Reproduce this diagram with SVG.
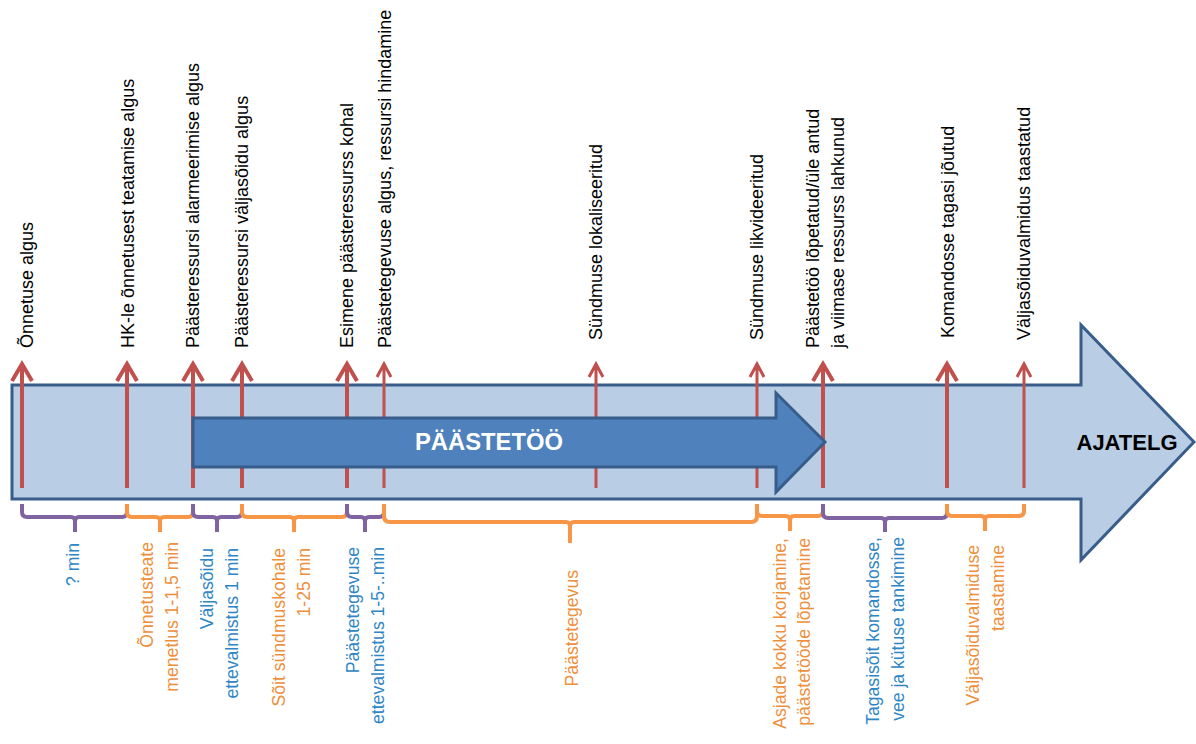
<svg xmlns="http://www.w3.org/2000/svg" width="1196" height="744" viewBox="0 0 1196 744">
<style>
.lbl{font-family:"Liberation Sans",Arial,sans-serif;font-size:18px;fill:#000}
.bl{font-family:"Liberation Sans",Arial,sans-serif;font-size:17.6px}
.or{fill:#ee8f3c}
.bu{fill:#2f86c4}
.big{fill:#b9cde5;stroke:#385d8a;stroke-width:3}
.inner{fill:#4f81bd;stroke:#385d8a;stroke-width:3}
.ra{stroke:#c0504d;fill:none;stroke-width:4;stroke-linejoin:miter}
.rt{stroke:#c0504d;fill:none;stroke-width:3}
.bp{stroke:#8064a2;fill:none;stroke-width:4}
.bo{stroke:#f79646;fill:none;stroke-width:4}
.title{font-family:"Liberation Sans",Arial,sans-serif;font-weight:bold;font-size:22px}
</style>
<rect width="1196" height="744" fill="#fff"/>
<g id="timeline">
<path class="big" d="M12,385 H1081 V325 L1194,442 L1081,560 V499 H12 Z"/>
<text class="title" x="1127" y="450" text-anchor="middle" fill="#000" textLength="101" lengthAdjust="spacingAndGlyphs">AJATELG</text>
</g>
<g id="connectors">
<path class="ra" d="M22,488 V364 M12,381 L22,364 L32,381"/>
<path class="ra" d="M127,488 V364 M117,381 L127,364 L137,381"/>
<path class="ra" d="M193,488 V364 M183,381 L193,364 L203,381"/>
<path class="ra" d="M242,488 V364 M232,381 L242,364 L252,381"/>
<path class="ra" d="M347,488 V364 M337,381 L347,364 L357,381"/>
<path class="rt" d="M384,488 V364 M377,377 L384,364 L391,377"/>
<path class="rt" d="M596,488 V364 M589,377 L596,364 L603,377"/>
<path class="rt" d="M757,488 V364 M750,377 L757,364 L764,377"/>
<path class="ra" d="M823,488 V364 M813,381 L823,364 L833,381"/>
<path class="ra" d="M947,488 V364 M937,381 L947,364 L957,381"/>
<path class="rt" d="M1024,488 V364 M1017,377 L1024,364 L1031,377"/>
</g>
<g id="paastetoo">
<path class="inner" d="M193,418 H776 V393 L825,442 L776,492 V467 H193 Z"/>
<text class="title" x="489" y="450" text-anchor="middle" fill="#fff" textLength="148" lengthAdjust="spacingAndGlyphs" style="font-size:23px">PÄÄSTETÖÖ</text>
</g>
<g id="brackets">
<path class="bp" d="M22,504 V512 Q22,517 27,517 H71 Q75,517 75,521 V532 M75,521 Q75,517 79,517 H122 Q127,517 127,512 V504"/>
<path class="bo" d="M127,504 V512 Q127,517 132,517 H156 Q160,517 160,521 V532 M160,521 Q160,517 164,517 H188 Q193,517 193,512 V504"/>
<path class="bp" d="M193,504 V512 Q193,517 198,517 H213 Q217,517 217,521 V532 M217,521 Q217,517 221,517 H237 Q242,517 242,512 V504"/>
<path class="bo" d="M242,504 V512 Q242,517 247,517 H290 Q294,517 294,521 V532 M294,521 Q294,517 298,517 H342 Q347,517 347,512 V504"/>
<path class="bp" d="M347,504 V512 Q347,517 352,517 H361 Q365,517 365,521 V532 M365,521 Q365,517 369,517 H379 Q384,517 384,512 V504"/>
<path class="bo" d="M384,504 V516 Q384,522 390,522 H566 Q570,522 570,527 V543 M570,527 Q570,522 574,522 H751 Q757,522 757,516 V504"/>
<path class="bo" d="M757,504 V511 Q757,516 762,516 H786 Q790,516 790,520 V531 M790,520 Q790,516 794,516 H818 Q823,516 823,511 V504"/>
<path class="bp" d="M823,504 V513 Q823,518 828,518 H881 Q885,518 885,522 V532 M885,522 Q885,518 889,518 H942 Q947,518 947,513 V504"/>
<path class="bo" d="M947,504 V511 Q947,516 952,516 H981 Q985,516 985,520 V531 M985,520 Q985,516 989,516 H1019 Q1024,516 1024,511 V504"/>
</g>
<g id="top-labels">
<text class="lbl" transform="translate(33,348) rotate(-90)">Õnnetuse algus</text>
<text class="lbl" transform="translate(134,348) rotate(-90)">HK-le õnnetusest teatamise algus</text>
<text class="lbl" transform="translate(199,348) rotate(-90)">Päästeressursi alarmeerimise algus</text>
<text class="lbl" transform="translate(248,348) rotate(-90)">Päästeressursi väljasõidu algus</text>
<text class="lbl" transform="translate(353,348) rotate(-90)">Esimene päästeressurss kohal</text>
<text class="lbl" transform="translate(391,348) rotate(-90)">Päästetegevuse algus, ressursi hindamine</text>
<text class="lbl" transform="translate(602,340) rotate(-90)">Sündmuse lokaliseeritud</text>
<text class="lbl" transform="translate(763,340) rotate(-90)">Sündmuse likvideeritud</text>
<text class="lbl" transform="translate(819,348) rotate(-90)">Päästetöö lõpetatud/üle antud</text>
<text class="lbl" transform="translate(844,348) rotate(-90)">ja viimase ressurss lahkunud</text>
<text class="lbl" transform="translate(954,338) rotate(-90)">Komandosse tagasi jõutud</text>
<text class="lbl" transform="translate(1030,340) rotate(-90)">Väljasõiduvalmidus taastatud</text>
</g>
<g id="bottom-labels" text-anchor="end">
<text class="bl bu" transform="translate(79,543) rotate(-90)">? min</text>
<text class="bl or" transform="translate(153,542) rotate(-90)">Õnnetusteate</text>
<text class="bl or" transform="translate(178,542) rotate(-90)">menetlus 1-1,5 min</text>
<text class="bl bu" transform="translate(213,548) rotate(-90)">Väljasõidu</text>
<text class="bl bu" transform="translate(238,548) rotate(-90)">ettevalmistus 1 min</text>
<text class="bl or" transform="translate(285,548) rotate(-90)">Sõit sündmuskohale</text>
<text class="bl or" transform="translate(310,548) rotate(-90)">1-25 min</text>
<text class="bl bu" transform="translate(359,547) rotate(-90)">Päästetegevuse</text>
<text class="bl bu" transform="translate(384,547) rotate(-90)">ettevalmistus 1-5-..min</text>
<text class="bl or" transform="translate(578,570) rotate(-90)">Päästetegevus</text>
<text class="bl or" transform="translate(786,538) rotate(-90)">Asjade kokku korjamine,</text>
<text class="bl or" transform="translate(810,538) rotate(-90)">päästetööde lõpetamine</text>
<text class="bl bu" transform="translate(879,537) rotate(-90)">Tagasisõit komandosse,</text>
<text class="bl bu" transform="translate(904,537) rotate(-90)">vee ja kütuse tankimine</text>
<text class="bl or" transform="translate(979,545) rotate(-90)">Väljasõiduvalmiduse</text>
<text class="bl or" transform="translate(1004,545) rotate(-90)">taastamine</text>
</g>
</svg>
